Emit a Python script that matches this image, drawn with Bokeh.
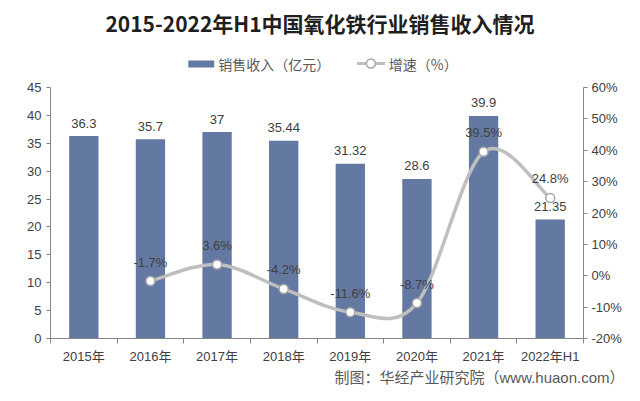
from bokeh.plotting import figure
from bokeh.layouts import column
from bokeh.models import (Range1d, LinearAxis, FixedTicker, PrintfTickFormatter,
                          ColumnDataSource, LabelSet, Title)
from bokeh.core.properties import value
from bokeh.embed import file_html
from bokeh.resources import INLINE

# ---------------- data ----------------
title_text = "2015-2022年H1中国氧化铁行业销售收入情况"
legend_labels = ["销售收入（亿元）", "增速（%）"]
source_text = "制图：华经产业研究院（www.huaon.com）"
years = ["2015年", "2016年", "2017年", "2018年", "2019年", "2020年", "2021年", "2022年H1"]
sales = [36.3, 35.7, 37, 35.44, 31.32, 28.6, 39.9, 21.35]
sales_text = ["36.3", "35.7", "37", "35.44", "31.32", "28.6", "39.9", "21.35"]
growth_years = ["2016年", "2017年", "2018年", "2019年", "2020年", "2021年", "2022年H1"]
growth = [-1.7, 3.6, -4.2, -11.6, -8.7, 39.5, 24.8]
growth_text = ["-1.7%", "3.6%", "-4.2%", "-11.6%", "-8.7%", "39.5%", "24.8%"]
left_ticks = [0, 5, 10, 15, 20, 25, 30, 35, 40, 45]
right_ticks = [-20, -10, 0, 10, 20, 30, 40, 50, 60]

BAR = "#6479A1"
LINE = "#BFBFBF"
MARK = "#A6A6A6"
AXIS = "#868686"
TXT = "#404040"
NUM_FONT = "Liberation Sans, Noto Sans CJK SC"
LBL_FONT = "Liberation Sans"
CJK_FONT = "Noto Sans CJK SC"
W = 624
HEAD_H = 79
FL, FR = 50, 40          # frame borders (left / right), shared by both stacked figures

# ---------------- header: title + legend ----------------
head = figure(width=W, height=HEAD_H, x_range=Range1d(FL, W - FR), y_range=Range1d(HEAD_H, 0),
              x_axis_type=None, y_axis_type=None, output_backend="svg",
              toolbar_location=None, min_border_left=FL, min_border_right=FR,
              min_border_top=0, min_border_bottom=0)
head.grid.visible = False
head.outline_line_color = None
head.text(x=[320], y=[22], text=[title_text], text_align="center", text_baseline="middle",
          text_font=value(CJK_FONT), text_font_size="21px", text_font_style="bold",
          text_color="#1F1F1F")
head.quad(left=[188], right=[214], top=[60], bottom=[67], fill_color=BAR, line_color=None)
head.text(x=[218, 389], y=[63, 63], text=legend_labels, text_align="left",
          text_baseline="middle", text_font=value(CJK_FONT), text_font_size="14px",
          text_color="#595959")
head.segment(x0=[357], y0=[63], x1=[385], y1=[63], line_color=LINE, line_width=3)
head.scatter(x=[371], y=[63], size=9, fill_color="white", line_color=MARK, line_width=1.5)

# ---------------- main chart ----------------
centers = [i + 0.5 for i in range(len(years))]
gx = [centers[years.index(y)] for y in growth_years]

p = figure(width=W, height=306, x_range=Range1d(0, len(years)), y_range=Range1d(0, 45),
           output_backend="svg", toolbar_location=None,
           min_border_left=FL, min_border_right=FR, min_border_top=8, min_border_bottom=47)
p.extra_y_ranges = {"pct": Range1d(-20, 60)}
p.grid.visible = False
p.outline_line_color = None

xa = p.xaxis[0]
xa.ticker = FixedTicker(ticks=centers, minor_ticks=list(range(len(years) + 1)))
xa.major_label_overrides = {c: y for c, y in zip(centers, years)}
xa.major_tick_out = 0
xa.major_tick_in = 0
xa.minor_tick_out = 5
xa.minor_tick_in = 0
xa.minor_tick_line_color = AXIS
xa.axis_line_color = AXIS
xa.major_label_text_font = NUM_FONT
xa.major_label_text_font_size = "13px"
xa.major_label_text_color = TXT
xa.major_label_standoff = 5

ya = p.yaxis[0]
ya.ticker = FixedTicker(ticks=left_ticks, minor_ticks=[])
ya.major_tick_out = 4
ya.major_tick_in = 0
ya.major_tick_line_color = AXIS
ya.axis_line_color = AXIS
ya.major_label_text_font = NUM_FONT
ya.major_label_text_font_size = "13px"
ya.major_label_text_color = TXT
ya.major_label_standoff = 5

ra = LinearAxis(y_range_name="pct", ticker=FixedTicker(ticks=right_ticks, minor_ticks=[]),
                formatter=PrintfTickFormatter(format="%d%%"))
ra.major_tick_out = 4
ra.major_tick_in = 0
ra.major_tick_line_color = AXIS
ra.axis_line_color = AXIS
ra.major_label_text_font = NUM_FONT
ra.major_label_text_font_size = "13px"
ra.major_label_text_color = TXT
ra.major_label_standoff = 4
p.add_layout(ra, "right")

bar_src = ColumnDataSource(dict(x=centers, top=sales, txt=sales_text))
p.vbar(x="x", top="top", width=0.44, source=bar_src, fill_color=BAR, line_color=None)

# smoothed growth line (Catmull-Rom bezier through the data points)
n = len(gx)
px = [gx[0]] + gx + [gx[-1]]
py = [growth[0]] + growth + [growth[-1]]
x0, y0, x1, y1, cx0, cy0, cx1, cy1 = [], [], [], [], [], [], [], []
for i in range(n - 1):
    a, b, c, d = i, i + 1, i + 2, i + 3
    x0.append(px[b]); y0.append(py[b])
    x1.append(px[c]); y1.append(py[c])
    cx0.append(px[b] + (px[c] - px[a]) / 6); cy0.append(py[b] + (py[c] - py[a]) / 6)
    cx1.append(px[c] - (px[d] - px[b]) / 6); cy1.append(py[c] - (py[d] - py[b]) / 6)
p.bezier(x0=x0, y0=y0, x1=x1, y1=y1, cx0=cx0, cy0=cy0, cx1=cx1, cy1=cy1,
         line_color=LINE, line_width=3.5, y_range_name="pct")

g_src = ColumnDataSource(dict(x=gx, y=growth, txt=growth_text))
p.scatter(x="x", y="y", source=g_src, size=9, fill_color="white",
          line_color=MARK, line_width=1.5, y_range_name="pct")

p.add_layout(LabelSet(x="x", y="top", text="txt", source=bar_src, y_offset=13,
                      text_align="center", text_baseline="middle",
                      text_font=value(LBL_FONT), text_font_size=value("13px"),
                      text_color=TXT))
p.add_layout(LabelSet(x="x", y="y", text="txt", source=g_src, y_offset=19,
                      y_range_name="pct", text_align="center", text_baseline="middle",
                      text_font=value(LBL_FONT), text_font_size=value("13px"),
                      text_color=TXT))

# source footer, below the x axis
p.add_layout(Title(text=source_text, align="left", offset=284, standoff=0,
                   text_font=NUM_FONT, text_font_size="15px", text_font_style="normal",
                   text_color="#595959"), "below")

layout = column(head, p, spacing=0)
open("out.html", "w").write(file_html(layout, INLINE))
